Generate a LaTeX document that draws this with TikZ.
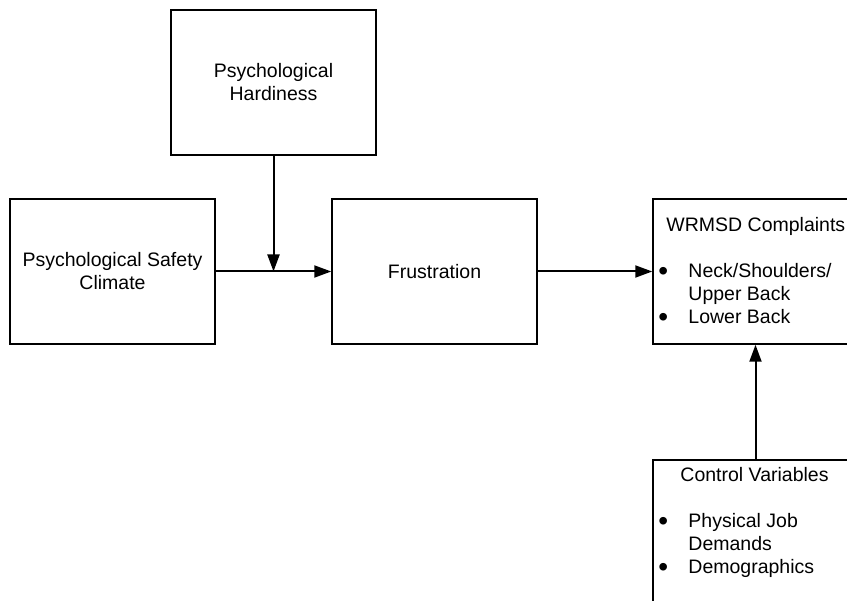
\documentclass[tikz,border=0pt]{standalone}
\usepackage{fontspec}
\setmainfont{Liberation Sans}
\usetikzlibrary{arrows.meta,positioning}

\newcommand{\listdot}{\raisebox{-3pt}{\fontsize{28}{23}\selectfont\textbullet}}

\begin{document}
\begin{tikzpicture}[x=1pt,y=-1pt,
    font=\fontsize{19.5}{23}\selectfont,
    box/.style={draw,line width=1.5pt,minimum width=205pt,minimum height=145pt,inner sep=0pt,align=center},
    listtext/.style={anchor=north west,inner sep=0pt},
    link/.style={line width=2pt,-{Triangle[length=17pt,width=12pt]}}]
    \useasboundingbox (0,0) rectangle (847,601);
    \clip (0,0) rectangle (847,601);

    \node (hardiness) [box] at (273.5,82.5) {Psychological\\Hardiness};
    \node (safety) [box] at (112.5,271.5) {Psychological Safety\\Climate};
    \node (frustration) [box] at (434.5,271.5) {Frustration};
    \node (wrmsd) [box] at (755.5,271.5) {};
    \node (control) [box] at (755.5,532.5) {};

    \node (wrmsdlist) [listtext] at ([shift={(6,17)}]wrmsd.north west)
      {\begin{tabular}{@{}p{30pt}@{}l@{}}
        \multicolumn{2}{@{}l@{}}{\hspace*{8pt}WRMSD Complaints}\\
        \\
        \listdot & Neck/Shoulders/\\
        & Upper Back\\
        \listdot & Lower Back
      \end{tabular}};
    \node (controllist) [listtext] at ([shift={(6,6)}]control.north west)
      {\begin{tabular}{@{}p{30pt}@{}l@{}}
        \multicolumn{2}{@{}l@{}}{\hspace*{22pt}Control Variables}\\
        \\
        \listdot & Physical Job\\
        & Demands\\
        \listdot & Demographics
      \end{tabular}};

    \coordinate (joint) at (hardiness.south |- safety.east);
    \draw[link] (safety.east) -- (frustration.west);
    \draw[link] (hardiness.south) -- (joint);
    \draw[link] (frustration.east) -- (wrmsd.west);
    \draw[link] (control.north) -- (wrmsd.south);
\end{tikzpicture}
\end{document}
